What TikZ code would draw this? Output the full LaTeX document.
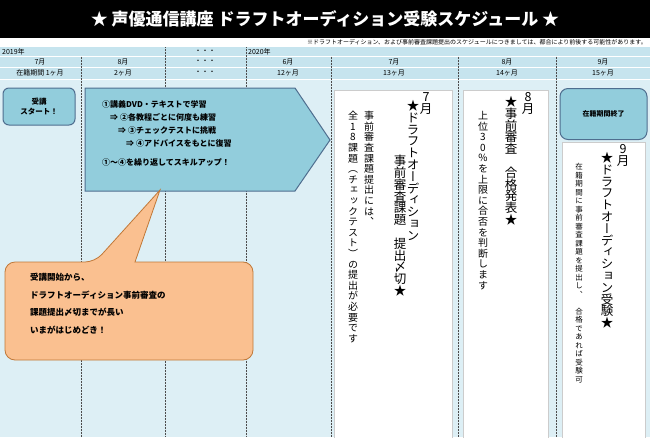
\documentclass[tikz,border=0pt]{standalone}
\usepackage{fontspec}
\setmainfont{Noto Sans CJK JP}
\newfontfamily\cjkv[RawFeature=+vert]{Noto Sans CJK JP}
\definecolor{bodyc}{HTML}{DDEFF5}
\definecolor{rowc}{HTML}{C6E4EE}
\definecolor{boxc}{HTML}{92CDDC}
\definecolor{boxd}{HTML}{4F6E8F}
\definecolor{orng}{HTML}{FAC090}
\definecolor{orgd}{HTML}{C07838}
\makeatletter
\newcommand\vt[3]{\vbox{\fontsize{#1}{#2}\cjkv\lineskiplimit=-20pt\lineskip=0pt\@tfor\vtc:=#3\do{\hbox to 1.1em{\hss\vtc\hss}}}}
\makeatother
\begin{document}
\begin{tikzpicture}[x=1pt,y=-1pt,
  vcol/.style={anchor=north,inner sep=0pt},
  hcell/.style={font=\fontsize{7}{8}\selectfont,inner sep=0pt},
  dot/.style={densely dotted,draw=black!70,line width=0.5pt},
  wbox/.style={fill=white,draw=black!20,line width=0.6pt}]
\useasboundingbox (0,0) rectangle (650,437);
\fill[bodyc] (0,0) rectangle (650,437);
\fill[black] (0,0) rectangle (650,38);
\fill[white] (0,38) rectangle (650,47);
\fill[rowc] (0,47) rectangle (650,79);
\draw[white,line width=0.8pt] (0,56.5)--(650,56.5) (0,67)--(650,67) (0,79)--(650,79);
\node[text=white,font=\fontsize{17}{20}\bfseries] (title) at (325,19) {★ 声優通信講座 ドラフトオーディション受験スケジュール ★};
\node[anchor=east,font=\fontsize{6}{7}\selectfont,inner sep=0pt] (note) at (647,42.5) {※ドラフトオーディション、および事前審査課題提出のスケジュールにつきましては、都合により前後する可能性があります。};
% column dividers
\foreach \x in {81,331,458,556} \draw[dot] (\x,56.5)--(\x,437);
\foreach \x in {165,246} \draw[dot] (\x,47)--(\x,437);
\node[hcell,anchor=west] (y19) at (2,51.5) {2019年};
\node[hcell] (d1) at (205,51.5) {・・・};
\node[hcell,anchor=west] (y20) at (248,51.5) {2020年};
\foreach \c/\t/\n in {40/7月/a,123/8月/b,205/・・・/c,288/6月/d,394/7月/e,507/8月/f,603/9月/g}
  \node[hcell] (m\n) at (\c,61.8) {\t};
\foreach \c/\t/\n in {40/在籍期間 1ヶ月/a,123/2ヶ月/b,205/・・・/c,288/12ヶ月/d,394/13ヶ月/e,507/14ヶ月/f,603/15ヶ月/g}
  \node[hcell] (p\n) at (\c,73) {\t};
% start box
\node[draw=boxd,fill=boxc,rounded corners=6pt,line width=1pt,minimum width=72pt,minimum height=37pt,align=center,font=\fontsize{7.5}{10}\bfseries] (start) at (39,106.5) {受講\\スタート！};
% arrow
\draw[draw=boxd,fill=boxc,line width=1pt] (85,88)--(295,88)--(330,140)--(295,191)--(85,191)--cycle;
\node[anchor=north west,align=left,font=\fontsize{8}{13}\bfseries,inner sep=0pt] (steps) at (102,100) {①講義DVD・テキストで学習\\\hspace{1em}⇒ ②各教程ごとに何度も練習\\\hspace{2em}⇒ ③チェックテストに挑戦\\\hspace{3em}⇒ ④アドバイスをもとに復習\\[6pt]①〜④を繰り返してスキルアップ！};
% callout
\draw[draw=orgd,fill=orng,line width=0.8pt,rounded corners=10pt] (5,262)--(95,262)[sharp corners]--(160,190)--(135,262)[rounded corners=10pt]--(253,262)--(253,360)--(5,360)--cycle;
\node[anchor=north west,align=left,font=\fontsize{8.5}{17.5}\bfseries,inner sep=0pt] (call) at (30,273) {受講開始から、\\ドラフトオーディション事前審査の\\課題提出〆切までが長い\\いまがはじめどき！};
% white boxes
\fill[wbox] (334,90) rectangle (452,440);
\fill[wbox] (463,90) rectangle (548,440);
\fill[wbox] (562,142) rectangle (645,440);
\node[draw=boxd,fill=boxc,rounded corners=8pt,line width=1pt,minimum width=87pt,minimum height=51pt,font=\fontsize{7}{8}\bfseries] (end) at (603.5,114) {在籍期間終了};
% July
\node[vcol] (j1) at (426,92) {\vt{12.5}{12}{7月}};
\node[vcol] (j2) at (413,100) {\vt{12.5}{11.8}{★ドラフトオーディション}};
\node[vcol] (j3) at (400,155) {\vt{12.5}{11.8}{事前審査課題　提出〆切★}};
\node[vcol] (j4) at (369,111) {\vt{10}{10.6}{事前審査課題提出には、}};
\node[vcol] (j5) at (353,111) {\vt{10}{10.6}{全18課題（チェックテスト）の提出が必要です}};
% August
\node[vcol] (a1) at (528,92) {\vt{12.5}{12}{8月}};
\node[vcol] (a2) at (511,96) {\vt{12.5}{11.8}{★事前審査　合格発表★}};
\node[vcol] (a3) at (483,111) {\vt{10}{10.6}{上位30\%を上限に合否を判断します}};
% September
\node[vcol] (s1) at (623,144) {\vt{12.5}{12}{9月}};
\node[vcol] (s2) at (607,152) {\vt{12.5}{11.8}{★ドラフトオーディション受験★}};
\node[vcol] (s3) at (579,163) {\vt{7.5}{8.5}{在籍期間に事前審査課題を提出し、　合格であれば受験可}};
\end{tikzpicture}
\end{document}
